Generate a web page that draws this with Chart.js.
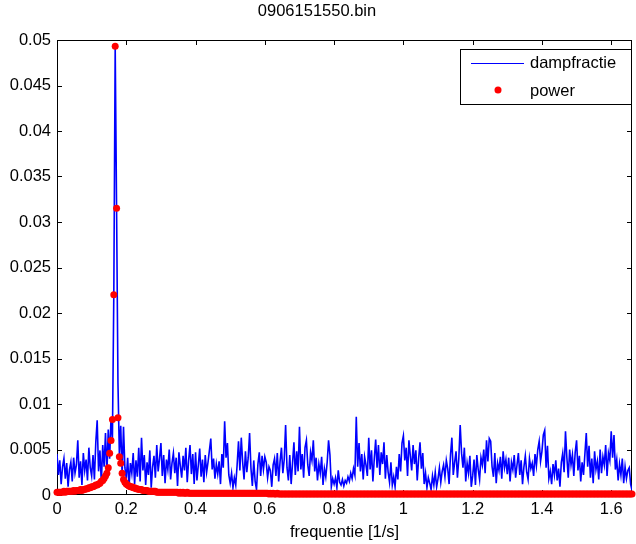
<!DOCTYPE html>
<html>
<head>
<meta charset="utf-8">
<script src="https://cdn.jsdelivr.net/npm/chart.js@4/dist/chart.umd.min.js"></script>
<style>
  body { margin: 0; background: #fff; }
  canvas { display: block; }
</style>
</head>
<body>
<canvas id="myChart" width="636" height="544"></canvas>
<script>
// frequency bin width of the spectrum [1/s]
const df = 0.004;

// dampfractie, one value per bin
const dampfractie = [
    0.0045,0.0022,0.0038,0.0012,0.0031,0.0040,0.0018,0.0035,0.0009,0.0028,0.0036,0.0015,0.0041,0.0024,0.0033,0.0060,0.0019,0.0037,0.0011,0.0046,0.0027,0.0039,0.0016,0.0052,0.0030,
    0.0021,0.0044,0.0017,0.0058,0.0082,0.0026,0.0049,0.0013,0.0055,0.0031,0.0068,0.0024,0.0072,0.0040,0.0085,0.0062,0.0220,0.0493,0.0315,0.0123,0.0045,0.0076,0.0022,0.0075,0.0030,
    0.0018,0.0041,0.0009,0.0035,0.0024,0.0046,0.0012,0.0038,0.0020,0.0052,0.0015,0.0063,0.0027,0.0044,0.0011,0.0036,0.0022,0.0049,0.0008,0.0031,0.0043,0.0019,0.0055,0.0026,0.0040,
    0.0057,0.0021,0.0044,0.0013,0.0039,0.0028,0.0050,0.0017,0.0035,0.0046,0.0024,0.0041,0.0010,0.0047,0.0032,0.0019,0.0043,0.0027,0.0052,0.0014,0.0038,0.0055,0.0023,0.0045,0.0012,
    0.0047,0.0016,0.0033,0.0051,0.0020,0.0039,0.0014,0.0044,0.0025,0.0036,0.0049,0.0062,0.0028,0.0040,0.0018,0.0034,0.0023,0.0037,0.0012,0.0045,0.0030,0.0081,0.0041,0.0057,0.0022,
    0.0013,0.0024,0.0008,0.0019,0.0011,0.0033,0.0059,0.0027,0.0063,0.0036,0.0017,0.0048,0.0025,0.0041,0.0068,0.0029,0.0010,0.0038,0.0015,0.0006,0.0034,0.0047,0.0021,0.0043,0.0028,
    0.0042,0.0036,0.0019,0.0031,0.0027,0.0009,0.0033,0.0040,0.0021,0.0046,0.0015,0.0037,0.0052,0.0024,0.0039,0.0077,0.0030,0.0016,0.0044,0.0012,0.0035,0.0058,0.0022,0.0048,0.0026,
    0.0075,0.0028,0.0045,0.0019,0.0052,0.0060,0.0033,0.0021,0.0047,0.0038,0.0060,0.0026,0.0041,0.0016,0.0034,0.0024,0.0042,0.0011,0.0029,0.0020,0.0036,0.0060,0.0044,0.0009,0.0018,
    0.0012,0.0019,0.0008,0.0027,0.0014,0.0011,0.0017,0.0010,0.0016,0.0013,0.0020,0.0015,0.0024,0.0018,0.0029,0.0022,0.0086,0.0031,0.0057,0.0026,0.0045,0.0017,0.0042,0.0033,0.0021,
    0.0063,0.0028,0.0049,0.0015,0.0040,0.0061,0.0030,0.0055,0.0022,0.0047,0.0034,0.0058,0.0018,0.0044,0.0025,0.0014,0.0036,0.0011,0.0020,0.0009,0.0031,0.0017,0.0045,0.0026,0.0057,
    0.0065,0.0038,0.0052,0.0021,0.0060,0.0043,0.0027,0.0055,0.0034,0.0049,0.0016,0.0040,0.0058,0.0029,0.0046,0.0012,0.0024,0.0008,0.0019,0.0013,0.0006,0.0021,0.0011,0.0025,0.0009,
    0.0018,0.0030,0.0014,0.0026,0.0033,0.0020,0.0038,0.0029,0.0012,0.0044,0.0063,0.0022,0.0036,0.0048,0.0019,0.0040,0.0077,0.0046,0.0030,0.0052,0.0015,0.0035,0.0024,0.0043,0.0009,
    0.0021,0.0039,0.0011,0.0044,0.0028,0.0017,0.0041,0.0033,0.0050,0.0024,0.0060,0.0037,0.0062,0.0059,0.0031,0.0020,0.0046,0.0013,0.0035,0.0027,0.0042,0.0018,0.0048,0.0030,0.0039,
    0.0023,0.0041,0.0015,0.0036,0.0028,0.0044,0.0019,0.0033,0.0046,0.0022,0.0038,0.0012,0.0031,0.0043,0.0025,0.0017,0.0040,0.0029,0.0035,0.0021,0.0045,0.0032,0.0050,0.0059,0.0037,
    0.0048,0.0066,0.0071,0.0030,0.0054,0.0018,0.0026,0.0012,0.0034,0.0022,0.0038,0.0016,0.0029,0.0009,0.0036,0.0046,0.0025,0.0070,0.0041,0.0019,0.0050,0.0033,0.0044,0.0021,0.0047,
    0.0060,0.0027,0.0043,0.0015,0.0036,0.0022,0.0045,0.0068,0.0031,0.0054,0.0019,0.0040,0.0013,0.0048,0.0028,0.0037,0.0017,0.0050,0.0024,0.0042,0.0033,0.0055,0.0021,0.0046,0.0038,
    0.0070,0.0041,0.0066,0.0028,0.0039,0.0016,0.0034,0.0022,0.0040,0.0013,0.0031,0.0018,0.0027,0.0030,0.0012,0.0005
];

// power, same bins
const power = [
    0.0003,0.0003,0.0003,0.0003,0.0003,0.0004,0.0003,0.0004,0.0004,0.0004,0.0004,0.0004,0.0005,0.0004,0.0005,0.0005,0.0005,0.0006,0.0005,0.0006,0.0006,0.0007,0.0007,0.0008,0.0008,
    0.0009,0.0009,0.0010,0.0011,0.0011,0.0012,0.0013,0.0015,0.0016,0.0018,0.0021,0.0024,0.0030,0.0046,0.0060,0.0083,0.0220,0.0493,0.0315,0.0085,0.0042,0.0035,0.0024,0.0017,0.0014,
    0.0012,0.0011,0.0010,0.0009,0.0009,0.0008,0.0008,0.0007,0.0007,0.0006,0.0006,0.0006,0.0005,0.0005,0.0005,0.0005,0.0004,0.0004,0.0004,0.0004,0.0004,0.0004,0.0003,0.0003,0.0003,
    0.0003,0.0003,0.0003,0.0003,0.0003,0.0003,0.0003,0.0003,0.0003,0.0003,0.0003,0.0003,0.0003,0.0002,0.0003,0.0002,0.0003,0.0002,0.0002,0.0003,0.0002,0.0002,0.0002,0.0002,0.0002,
    0.0002,0.0002,0.0002,0.0002,0.0002,0.0002,0.0002,0.0002,0.0002,0.0002,0.0002,0.0002,0.0002,0.0002,0.0002,0.0002,0.0002,0.0002,0.0002,0.0002,0.0002,0.0002,0.0002,0.0002,0.0002,
    0.0002,0.0002,0.0002,0.0002,0.0002,0.0002,0.0002,0.0002,0.0002,0.0002,0.0002,0.0002,0.0002,0.0002,0.0002,0.0002,0.0002,0.0002,0.0002,0.0002,0.0002,0.0002,0.0002,0.0002,0.0002,
    0.0002,0.0002,0.0002,0.0001,0.0002,0.0001,0.0002,0.0001,0.0001,0.0002,0.0001,0.0001,0.0001,0.0001,0.0001,0.0001,0.0001,0.0001,0.0001,0.0001,0.0001,0.0001,0.0001,0.0001,0.0001,
    0.0001,0.0001,0.0001,0.0001,0.0001,0.0001,0.0001,0.0001,0.0001,0.0001,0.0001,0.0001,0.0001,0.0001,0.0001,0.0001,0.0001,0.0001,0.0001,0.0001,0.0001,0.0001,0.0001,0.0001,0.0001,
    0.0001,0.0001,0.0001,0.0001,0.0001,0.0001,0.0001,0.0001,0.0001,0.0001,0.0001,0.0001,0.0001,0.0001,0.0001,0.0001,0.0001,0.0001,0.0001,0.0001,0.0001,0.0001,0.0001,0.0001,0.0001,
    0.0001,0.0001,0.0001,0.0001,0.0001,0.0001,0.0001,0.0001,0.0001,0.0001,0.0001,0.0001,0.0001,0.0001,0.0001,0.0001,0.0001,0.0001,0.0001,0.0001,0.0001,0.0001,0.0001,0.0001,0.0001,
    0.0001,0.0001,0.0001,0.0001,0.0001,0.0001,0.0001,0.0001,0.0001,0.0001,0.0001,0.0001,0.0001,0.0001,0.0001,0.0001,0.0001,0.0001,0.0001,0.0001,0.0001,0.0001,0.0001,0.0001,0.0001,
    0.0001,0.0001,0.0001,0.0001,0.0001,0.0001,0.0001,0.0001,0.0001,0.0001,0.0001,0.0001,0.0001,0.0001,0.0001,0.0001,0.0001,0.0001,0.0001,0.0001,0.0001,0.0001,0.0001,0.0001,0.0001,
    0.0001,0.0001,0.0001,0.0001,0.0001,0.0001,0.0001,0.0001,0.0001,0.0001,0.0001,0.0001,0.0001,0.0001,0.0001,0.0001,0.0001,0.0001,0.0001,0.0001,0.0001,0.0001,0.0001,0.0001,0.0001,
    0.0001,0.0001,0.0001,0.0001,0.0001,0.0001,0.0001,0.0001,0.0001,0.0001,0.0001,0.0001,0.0001,0.0001,0.0001,0.0001,0.0001,0.0001,0.0001,0.0001,0.0001,0.0001,0.0001,0.0001,0.0001,
    0.0001,0.0001,0.0001,0.0001,0.0001,0.0001,0.0001,0.0001,0.0001,0.0001,0.0001,0.0001,0.0001,0.0001,0.0001,0.0001,0.0001,0.0001,0.0001,0.0001,0.0001,0.0001,0.0001,0.0001,0.0001,
    0.0001,0.0001,0.0001,0.0001,0.0001,0.0001,0.0001,0.0001,0.0001,0.0001,0.0001,0.0001,0.0001,0.0001,0.0001,0.0001,0.0001,0.0001,0.0001,0.0001,0.0001,0.0001,0.0001,0.0001,0.0001,
    0.0001,0.0001,0.0001,0.0001,0.0001,0.0001,0.0001,0.0001,0.0001,0.0001,0.0001,0.0001,0.0001,0.0001,0.0001,0.0001
];

// bin centres: i * df
const freq = dampfractie.map((_, i) => +(i * df).toFixed(3));

const xTickStep = 0.2;
const yTickStep = 0.005;

const fontFamily = "'Liberation Sans', Arial, sans-serif";
const fontSize = 16.5;

Chart.defaults.font.family = fontFamily;
Chart.defaults.font.size = fontSize;
Chart.defaults.color = '#000';

// matlab style box with inward ticks on all four sides, plus the legend
const axesBox = {
    id: 'axesBox',
    beforeDatasetsDraw(chart) {
        const { ctx, chartArea: a, scales: { x, y } } = chart;
        ctx.save();
        ctx.strokeStyle = '#000';
        ctx.lineWidth = 1;
        ctx.beginPath();
        x.ticks.forEach(t => {
            const px = Math.round(x.getPixelForValue(t.value)) + 0.5;
            ctx.moveTo(px, a.bottom); ctx.lineTo(px, a.bottom - 5);
            ctx.moveTo(px, a.top); ctx.lineTo(px, a.top + 5);
        });
        y.ticks.forEach(t => {
            const py = Math.round(y.getPixelForValue(t.value)) + 0.5;
            ctx.moveTo(a.left, py); ctx.lineTo(a.left + 5, py);
            ctx.moveTo(a.right, py); ctx.lineTo(a.right - 5, py);
        });
        ctx.stroke();
        ctx.strokeRect(a.left + 0.5, a.top + 0.5, a.width - 1, a.height - 1);
        ctx.restore();
    },
    afterDraw(chart) {
        const { ctx, chartArea: a } = chart;
        const blue = chart.data.datasets[0];
        const red = chart.data.datasets[1];
        const w = 172, h = 56;
        const lx = a.right - w, ly = a.top + 9;
        ctx.save();
        ctx.fillStyle = '#fff';
        ctx.fillRect(lx, ly, w, h);
        ctx.strokeStyle = '#000';
        ctx.lineWidth = 1;
        ctx.strokeRect(lx + 0.5, ly + 0.5, w - 1, h - 1);

        ctx.strokeStyle = '#0000ff';
        ctx.beginPath();
        ctx.moveTo(lx + 11, ly + 14.5);
        ctx.lineTo(lx + 64, ly + 14.5);
        ctx.stroke();

        ctx.fillStyle = '#ff0000';
        ctx.beginPath();
        ctx.arc(lx + 38, ly + 41, red.pointRadius, 0, Math.PI * 2);
        ctx.fill();

        ctx.fillStyle = '#000';
        ctx.font = fontSize + 'px ' + fontFamily;
        ctx.textBaseline = 'middle';
        ctx.fillText(blue.label, lx + 70, ly + 14);
        ctx.fillText(red.label, lx + 70, ly + 42);
        ctx.restore();
    }
};

const myChart = new Chart(document.getElementById('myChart'), {
    type: 'line',
    data: {
        labels: freq,
        datasets: [{
            label: 'dampfractie',
            data: dampfractie,
            borderColor: '#0000ff',
            borderWidth: 1.6,
            pointRadius: 0,
            tension: 0,
            order: 2
        }, {
            label: 'power',
            data: power,
            showLine: false,
            borderColor: '#ff0000',
            pointBackgroundColor: '#ff0000',
            pointBorderWidth: 0,
            pointRadius: 3.5,
            clip: false,
            order: 1
        }]
    },
    options: {
        responsive: false,
        animation: false,
        events: [],
        layout: { padding: { left: 0, right: 2, top: 0, bottom: 0 } },
        plugins: {
            legend: { display: false },
            tooltip: { enabled: false },
            title: {
                display: true,
                text: '0906151550.bin',
                color: '#000',
                font: { size: fontSize, weight: 'normal' },
                padding: { top: 1.4, bottom: 18.8 }
            }
        },
        scales: {
            x: {
                type: 'linear',
                min: 0,
                max: 1.66,
                grid: { display: false, drawTicks: false },
                border: { display: false },
                ticks: {
                    stepSize: xTickStep,
                    includeBounds: false,
                    maxRotation: 0,
                    autoSkip: false,
                    padding: 5,
                    callback: v => String(+v.toFixed(2))
                },
                title: {
                    display: true,
                    text: 'frequentie [1/s]',
                    color: '#000',
                    font: { size: fontSize },
                    padding: { top: 0, bottom: 1.4 }
                },
                afterFit: s => { s.height = 49; }
            },
            y: {
                min: 0,
                max: 0.05,
                grid: { display: false, drawTicks: false },
                border: { display: false },
                ticks: {
                    stepSize: yTickStep,
                    padding: 6,
                    callback: v => String(+v.toFixed(4))
                },
                afterFit: s => { s.width = 57; }
            }
        }
    },
    plugins: [axesBox]
});
</script>
</body>
</html>
